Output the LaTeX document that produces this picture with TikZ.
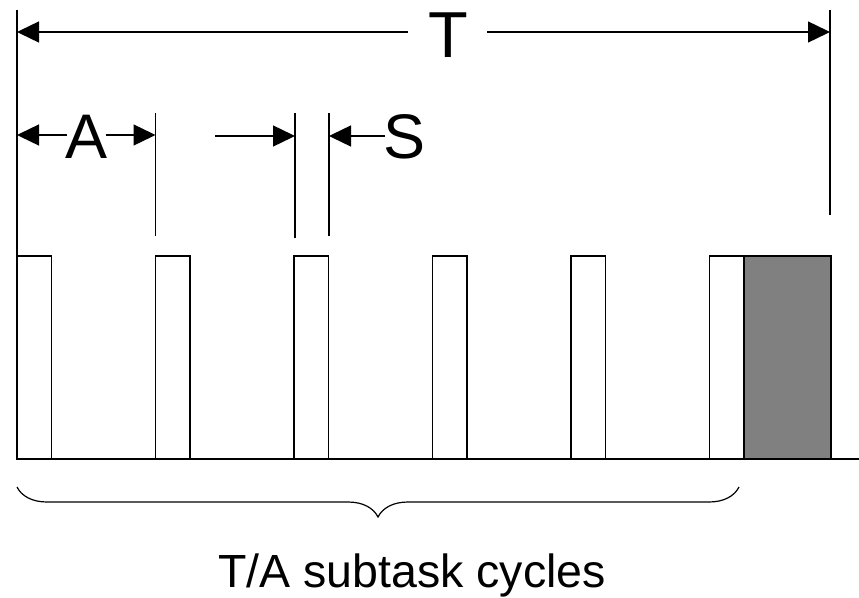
\documentclass[tikz,border=0pt]{standalone}
\usepackage{fontspec}
\setmainfont{Liberation Sans}
\usetikzlibrary{arrows.meta,decorations.pathreplacing}
\definecolor{slotgrey}{HTML}{808080}
\tikzset{
  ln/.style={line width=1.4pt, line cap=butt},
  dimarrow/.style={ln, -{Triangle[length=22pt,width=21pt]}},
  slot/.style={draw=black, line width=1.4pt, fill=white},
  busy/.style={draw=black, line width=1.4pt, fill=slotgrey},
  lbl/.style={inner sep=0pt, anchor=base},
}
\begin{document}
\begin{tikzpicture}[x=1pt,y=-1pt]
\useasboundingbox (0,0) rectangle (859,597);
% slots
\foreach \i/\xa in {1/17,2/155.5,3/294,4/432.5,5/571,6/709.5}{
  \draw[slot] (\xa,256) rectangle ++(34.5,203);
}
\draw[busy] (744,256) rectangle (831,459);
% baseline
\coordinate (b0) at (17,459);
\coordinate (b1) at (859,459);
\draw[ln] (b0) -- (b1);
% extension lines
\coordinate (l0t) at (17,10);   \coordinate (l0b) at (17,256);
\coordinate (rt) at (830,10);   \coordinate (rb) at (830,215);
\coordinate (a1t) at (155.5,113); \coordinate (a1b) at (155.5,236);
\coordinate (s0t) at (295,113); \coordinate (s0b) at (295,238);
\coordinate (s1t) at (329,113); \coordinate (s1b) at (329,236);
\draw[ln] (l0t) -- (l0b);
\draw[ln] (rt) -- (rb);
\draw[ln] (a1t) -- (a1b);
\draw[ln] (s0t) -- (s0b);
\draw[ln] (s1t) -- (s1b);
% labels
\node[lbl, font=\fontsize{65}{65}\selectfont] (T) at (448,57) {T};
\node[lbl, font=\fontsize{63}{63}\selectfont] (A) at (86.5,158) {A};
\node[lbl, font=\fontsize{63}{63}\selectfont] (S) at (405,158) {S};
\node[lbl, font=\fontsize{46.5}{46.5}\selectfont] (cap) at (412,587) {T/A subtask cycles};
% T dimension
\coordinate (tl) at (17,32);  \coordinate (tlf) at (408,32);
\coordinate (trf) at (487,32); \coordinate (tr) at (830,32);
\draw[dimarrow] (tlf) -- (tl);
\draw[dimarrow] (trf) -- (tr);
% A dimension
\coordinate (al) at (17,135); \coordinate (alf) at (67,135);
\coordinate (arf) at (106,135); \coordinate (ar) at (155.5,135);
\draw[dimarrow] (alf) -- (al);
\draw[dimarrow] (arf) -- (ar);
% S dimension
\coordinate (sl) at (295,136); \coordinate (slf) at (215,136);
\coordinate (sr) at (329,136); \coordinate (srf) at (385,136);
\draw[dimarrow] (slf) -- (sl);
\draw[dimarrow] (srf) -- (sr);
% brace
\coordinate (br0) at (17,487);
\coordinate (br1) at (739,487);
\draw[line width=1.2pt, decorate, decoration={brace, amplitude=30pt, aspect=0.50}] (br1) -- (br0);
\end{tikzpicture}
\end{document}
